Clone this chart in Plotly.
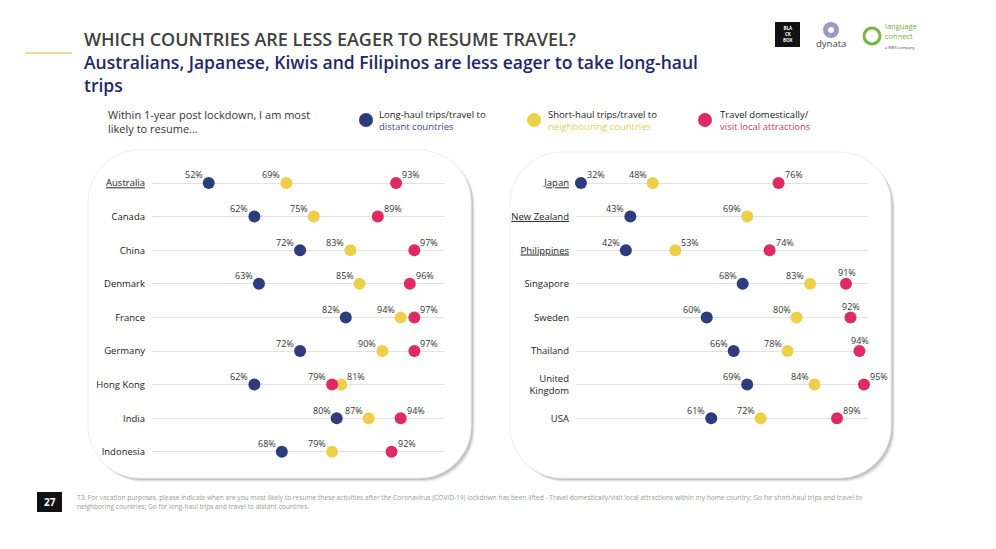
import plotly.graph_objects as go

# ---------------- data ----------------
left_countries = ["Australia", "Canada", "China", "Denmark", "France",
                  "Germany", "Hong Kong", "India", "Indonesia"]
left_long = [52, 62, 72, 63, 82, 72, 62, 80, 68]
left_short = [69, 75, 83, 85, 94, 90, 81, 87, 79]
left_domestic = [93, 89, 97, 96, 97, 97, 79, 94, 92]

right_countries = ["Japan", "New Zealand", "Philippines", "Singapore", "Sweden",
                   "Thailand", "United Kingdom", "USA"]
right_long = [32, 43, 42, 68, 60, 66, 69, 61]
right_short = [48, 69, 53, 83, 80, 78, 84, 72]
right_domestic = [76, 97, 74, 91, 92, 94, 95, 89]

highlighted = ["Australia", "Japan", "New Zealand", "Philippines"]

series_names = ["Long-haul trips/travel to distant countries",
                "Short-haul trips/travel to neighbouring countries",
                "Travel domestically/visit local attractions"]

# ---------------- style ----------------
W, H = 996, 549
BLUE = "#2c3c7c"
YELLOW = "#ecd04a"
PINK = "#df2a63"
FONT = "Open Sans"

def X(x):
    return x / W

def Y(y):
    return 1 - y / H

def label(name):
    t = name.replace("United Kingdom", "United<br>Kingdom")
    return f"<u>{t}</u>" if name in highlighted else t

def rrect_path(x0, y0, x1, y1, r):
    k = 0.5523 * r
    p = [
        f"M {X(x0 + r)},{Y(y0)}",
        f"L {X(x1 - r)},{Y(y0)}",
        f"C {X(x1 - r + k)},{Y(y0)} {X(x1)},{Y(y0 + r - k)} {X(x1)},{Y(y0 + r)}",
        f"L {X(x1)},{Y(y1 - r)}",
        f"C {X(x1)},{Y(y1 - r + k)} {X(x1 - r + k)},{Y(y1)} {X(x1 - r)},{Y(y1)}",
        f"L {X(x0 + r)},{Y(y1)}",
        f"C {X(x0 + r - k)},{Y(y1)} {X(x0)},{Y(y1 - r + k)} {X(x0)},{Y(y1 - r)}",
        f"L {X(x0)},{Y(y0 + r)}",
        f"C {X(x0)},{Y(y0 + r - k)} {X(x0 + r - k)},{Y(y0)} {X(x0 + r)},{Y(y0)}",
        "Z",
    ]
    return " ".join(p)

# label placement per point (style, not data): L = upper-left, R = upper-right, C = above
left_pos = {
    "long": ["L"] * 9,
    "short": ["L"] * 6 + ["R"] + ["L"] * 2,
    "dom": ["R"] * 6 + ["L"] + ["R"] * 2,
}
right_pos = {
    "long": ["R"] + ["L"] * 7,
    "short": ["L", "L", "R", "L", "L", "L", "L", "L"],
    "dom": ["R", "R", "R", "C", "C", "C", "R", "R"],
}

fig = go.Figure()
ann = []

def add_panel(countries, longv, shortv, domv, pos, xa, ya):
    ys = list(range(len(countries)))
    for vals, color, key, name in [(longv, BLUE, "long", series_names[0]),
                                   (shortv, YELLOW, "short", series_names[1]),
                                   (domv, PINK, "dom", series_names[2])]:
        fig.add_trace(go.Scatter(
            x=vals, y=ys, mode="markers", name=name,
            marker=dict(color=color, size=12, line=dict(width=0)),
            cliponaxis=False, showlegend=False,
            hovertemplate="%{x}%<extra>" + name + "</extra>",
            xaxis=xa, yaxis=ya,
        ))
        for v, yy, p in zip(vals, ys, pos[key]):
            xanchor = {"L": "right", "R": "left", "C": "center"}[p]
            xshift = {"L": -5, "R": 5, "C": 1}[p]
            yshift = {"L": 8, "R": 8, "C": 11}[p]
            ann.append(dict(x=v, y=yy, xref=xa, yref=ya, text=f"{v}%",
                            showarrow=False, xanchor=xanchor, yanchor="middle",
                            xshift=xshift, yshift=yshift, borderpad=0,
                            font=dict(family=FONT, size=9, color="#333333")))

add_panel(left_countries, left_long, left_short, left_domestic, left_pos, "x", "y")
add_panel(right_countries, right_long, right_short, right_domestic, right_pos, "x2", "y2")

row_top, row_pitch = 183, 33.6
dom_y = [Y(row_top + 8.5 * row_pitch), Y(row_top - 0.5 * row_pitch)]

axis_common = dict(showgrid=False, zeroline=False, showticklabels=False,
                   showline=False, ticks="", fixedrange=True)
yaxis_common = dict(showgrid=True, gridcolor="#e2e2e2", gridwidth=1, zeroline=False,
                    showline=False, ticks="", range=[8.5, -0.5], domain=dom_y,
                    tickfont=dict(family=FONT, size=9.5, color="#1a1a1a"),
                    ticklabelstandoff=6, fixedrange=True)

fig.update_layout(
    width=W, height=H, margin=dict(l=0, r=0, t=0, b=0),
    paper_bgcolor="white", plot_bgcolor="rgba(0,0,0,0)",
    xaxis=dict(domain=[X(152), X(445)], range=[39.6, 103.7], **axis_common),
    xaxis2=dict(domain=[X(576), X(868)], range=[30.9, 95.9], **axis_common),
    yaxis=dict(anchor="x", tickmode="array", tickvals=list(range(len(left_countries))),
               ticktext=[label(c) for c in left_countries], **yaxis_common),
    yaxis2=dict(anchor="x2", tickmode="array", tickvals=list(range(len(right_countries))),
                ticktext=[label(c) for c in right_countries], **yaxis_common),
    showlegend=False,
)

shapes = []
# panels with soft shadow
for (x0, y0, x1, y1) in [(88, 150, 471, 478), (510, 152, 891, 478)]:
    for off, op in [(4, 0.05), (3, 0.08), (2, 0.12)]:
        shapes.append(dict(type="path", xref="paper", yref="paper", layer="below",
                           path=rrect_path(x0 + off, y0 + off, x1 + off, y1 + off, 52),
                           fillcolor=f"rgba(0,0,0,{op})", line=dict(width=0)))
    shapes.append(dict(type="path", xref="paper", yref="paper", layer="below",
                       path=rrect_path(x0, y0, x1, y1, 52),
                       fillcolor="white", line=dict(color="#efefef", width=1)))

# yellow accent line
shapes.append(dict(type="line", xref="paper", yref="paper", x0=X(25), x1=X(72),
                   y0=Y(53), y1=Y(53), line=dict(color="#f0dc8c", width=2)))

# legend dots
for cx, col in [(366, BLUE), (534, YELLOW), (705, PINK)]:
    shapes.append(dict(type="circle", xref="paper", yref="paper",
                       x0=X(cx - 7), x1=X(cx + 7), y0=Y(120 - 7), y1=Y(120 + 7),
                       fillcolor=col, line=dict(width=0)))

# logos
shapes.append(dict(type="rect", xref="paper", yref="paper", x0=X(775), x1=X(800),
                   y0=Y(22), y1=Y(47), fillcolor="#111111", line=dict(width=0)))
shapes.append(dict(type="circle", xref="paper", yref="paper", x0=X(823), x1=X(839),
                   y0=Y(22), y1=Y(38), fillcolor="#9a9ac8", line=dict(width=0)))
shapes.append(dict(type="circle", xref="paper", yref="paper", x0=X(828), x1=X(834),
                   y0=Y(27), y1=Y(33), fillcolor="white", line=dict(width=0)))
shapes.append(dict(type="circle", xref="paper", yref="paper", x0=X(864), x1=X(880),
                   y0=Y(28), y1=Y(44), fillcolor="rgba(0,0,0,0)",
                   line=dict(color="#74b843", width=3)))
# page number box
shapes.append(dict(type="rect", xref="paper", yref="paper", x0=X(37), x1=X(62),
                   y0=Y(492), y1=Y(512), fillcolor="#111111", line=dict(width=0)))

fig.update_layout(shapes=shapes)

def text(x, y, s, size, color, xanchor="left", weight="normal", family=FONT):
    ann.append(dict(x=X(x), y=Y(y), xref="paper", yref="paper", text=s,
                    showarrow=False, xanchor=xanchor, yanchor="middle",
                    align=xanchor if xanchor != "center" else "center",
                    font=dict(family=family, size=size, color=color, weight=weight)))

text(82, 39, "WHICH COUNTRIES ARE LESS EAGER TO RESUME TRAVEL?", 18, "#404040", weight=600)
text(82, 73.5, "Australians, Japanese, Kiwis and Filipinos are less eager to take long-haul"
     "<br>trips", 17.5, "#1e2868", weight=600)

text(106, 121.5, "Within 1-year post lockdown, I am most<br>likely to resume...", 11, "#333333")

text(377, 120.5, "Long-haul trips/travel to<br><span style='color:#3a4a8a'>distant countries</span>",
     9.5, "#222222")
text(546, 120.5, "Short-haul trips/travel to<br><span style='color:#e6cf5c'>neighbouring countries</span>",
     9.5, "#222222")
text(718, 120.5, "Travel domestically/<br><span style='color:#d6336c'>visit local attractions</span>",
     9.5, "#222222")

# logo texts
text(787.5, 34.5, "BLA<br>CK<br>BOX", 4.5, "white", xanchor="center", weight=700)
text(831, 44, "dynata", 9.5, "#444444", xanchor="center")
text(883, 35, "language<br>connect<br><span style='font-size:4px;color:#444444'>a RWS company</span>",
     7.5, "#6fae3f")

text(49.5, 502, "27", 10, "white", xanchor="center", weight=700)

footer = ("T3. For vacation purposes, please indicate when are you most likely to resume these "
          "activities after the Coronavirus (COVID-19) lockdown has been lifted - Travel "
          "domestically/visit local attractions within my home country; Go for short-haul "
          "trips and travel to<br>neighboring countries; Go for long-haul trips and travel to "
          "distant countries.")
text(75, 502, footer, 6.6, "#9a9a9a")

fig.update_layout(annotations=ann)

fig.write_html("out.html")
